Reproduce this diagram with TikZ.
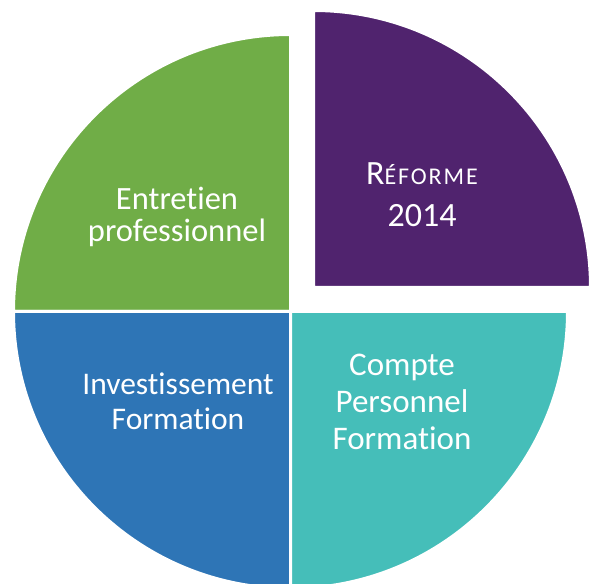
\documentclass[tikz,border=0pt]{standalone}
\usepackage{fontspec}
\setmainfont[RawFeature=-liga]{Carlito}
\definecolor{cgreen}{HTML}{70AD47}
\definecolor{cpurple}{HTML}{50236E}
\definecolor{cblue}{HTML}{2E75B6}
\definecolor{cteal}{HTML}{45BEB9}
\begin{document}
\begin{tikzpicture}[x=1pt,y=1pt,
  wedge/.style={draw=white,line width=3pt,line join=miter},
  lbl/.style={text=white,align=center,inner sep=0pt,anchor=base}]
\useasboundingbox (0,0) rectangle (595,584);
\coordinate (C) at (290.5,272.5);
\coordinate (P) at (313.5,296.5);
\def\R{277}
% green
\fill[cgreen,wedge] (C) -- ++(180:\R) arc[start angle=180,end angle=90,radius=\R] -- cycle;
% blue
\fill[cblue,wedge] (C) -- ++(180:\R) arc[start angle=180,end angle=270,radius=\R] -- cycle;
% teal
\fill[cteal,wedge] (C) -- ++(270:\R) arc[start angle=270,end angle=360,radius=\R] -- cycle;
% purple (exploded)
\fill[cpurple,wedge] (P) -- ++(0:\R) arc[start angle=0,end angle=90,radius=\R] -- cycle;
\node[lbl,font=\fontsize{32.5}{31.7}\selectfont] (ent) at (177,342.3) {Entretien\\professionnel};
\node[lbl,font=\fontsize{34}{41.7}\selectfont] (ref) at (422,357.3) {R{\fontsize{24}{41.7}\selectfont\addfontfeature{LetterSpace=8}ÉFORME}\\2014};
\node[lbl,font=\fontsize{31.5}{34.3}\selectfont] (inv) at (178,154.7) {Investissement\\Formation};
\node[lbl,font=\fontsize{33}{37}\selectfont] (cpf) at (402,134) {Compte\\Personnel\\Formation};
\end{tikzpicture}
\end{document}
